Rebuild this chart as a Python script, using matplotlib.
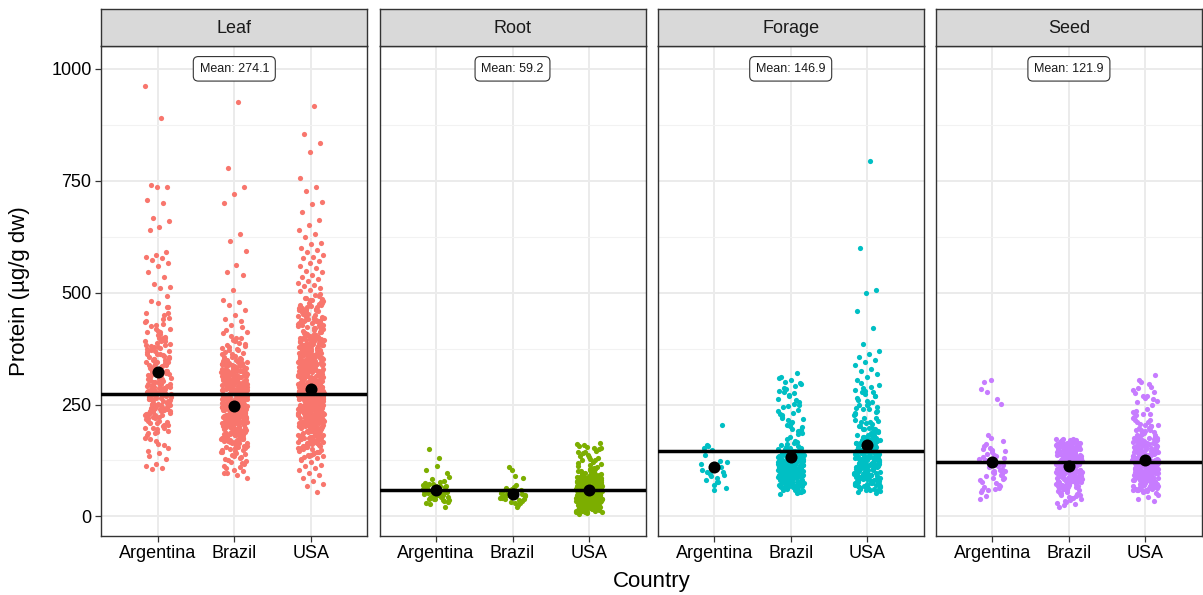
import matplotlib.pyplot as plt

plt.rcParams['font.family'] = ['Liberation Sans', 'DejaVu Sans']

# dados (proteína, µg/g dw)
tissues = ['Leaf', 'Root', 'Forage', 'Seed']
countries = ['Argentina', 'Brazil', 'USA']
colors = ['#F8766D', '#7CAE00', '#00BFC4', '#C77CFF']

overall_means = [274.1, 59.2, 146.9, 121.9]
group_means = [[322, 247, 285], [59, 51, 59], [110, 133, 159], [122, 113, 127]]


def nums(txt):
    return [int(v) for v in txt.split()]


leaf_argentina = nums("""
962 890 740 737 735 706 700 667 660 646 640 590 585 580 577 573 566 560 547 536 519 513 510
312 245 388 276 431 198 355 287 263 402 341 226 297 372 254 318 186 449 283 236 364 305 271 418
229 337 292 258 476 214 349 301 267 393 242 326 189 411 278 233 357 299 262 384 221 346 308 251
467 275 317 204 378 289 240 332 269 427 217 361 294 256 398 230 343 281 175 315 262 492 249 367
303 223 386 286 209 338 271 455 244 324 192 406 280 237 351 296 265 381 212 328 277 441 254 369
306 228 391 268 197 334 285 247 414 219 359 290 260 376 235 321 169 437 273 248 345 300 266 399
226 310 283 482 239 363 292 203 350 257 141 136 128 118 112 108 105 153 162 147
287 352 231 408 269 326 195 374 258 301 443 222 339 276 186 391 248 315 467 209 363 283 239 419
296 172 347 264 383 227 330 455 252 307 198 370 273 236 426 291 344 181 399 261 318 214 357 285
243 434 268 324 205 379 297 159 336 250 412 279
""")

leaf_brazil = nums("""
254 198 312 227 286 163 341 239 272 205 298 184 325 261 219 349 242 176 307 268 231 289 152 334
213 277 246 318 195 262 301 227 356 181 249 292 216 338 271 207 283 236 169 315 257 224 296 188
345 265 211 279 241 322 199 258 305 233 172 287 248 330 218 267 193 309 244 354 226 274 160 293
252 339 208 281 238 316 185 264 229 300 247 171 327 256 215 285 203 343 269 232 311 178 276 245
191 320 260 222
238 294 167 331 255 209 282 243 348 196 273 227 306 183 261 250 323 214 289 158 337 240 270 201
314 228 285 174 297 253 346 221 266 190 303 235 278 157 328 246 212 291 263 180 319 234 358 205
275 249 143 310 226 287 197 340 258 217 295 272 186 324 241 262 164 307 230 283 210 351 248 269
192 299 236 317 176 280 254 222 333 203 264 288 149 312 243 228 276 195 336 257 211 302 268 182
325 237 290 206
139 147 128 133 121 144 156 126 117 135 112 131 150 124 141 108 119 137 362 371 378 385 391 367
398 404 412 375 383 366 394 409 388 372 380 399 417 424 363 376
925 778 736 720 700 632 615 592 561 546 540 505 483 478 472 462 449 440 436 428 85 92 97 101 104
96 110
221 305 187 268 339 243 176 292 214 327 259 198 311 235 282 161 346 250 208 274 230 319 189 263
301 224 357 245 170 287 212 333 266 194 316 239 279 155 342 257 203 298 229 271 182 323 248 215
290 261 177 336 233 306 256 199 284 218 344 241 166 313 275 227 296 206 352 252 185 320 237 270
148 303 223 288 264 193 328 246 211 279 173 315 258 232 297 201 338 267 219 308 251 180 325 244
286 209 272 154
247 192 318 263 226 289 174 331 255 213 300 238 167 347 276 204 293 229 312 251 186 322 268 217
284 159 336 242 198 305 273 221 290 181 328 259 209 296 235 350 264 190 314 248 171 283 226 309
257 202 341 269 215 294 184 324 240 277 163 307 253 219 333 270 196 286 231 316 245 177 299 262
207 338 228 281 168 311 250 194
""")

leaf_usa = nums("""
918 855 835 815 756 735 727 702 698 680 662 650 641 632 625 612 608 600 596 590 585 580 577 571
566 560 555 549 545 540 536 531 527 521 518 514 510 506 503
55 68 72 80 85 92 97 103 108 112 116 121 126 131
287 214 356 243 412 178 321 265 448 199 305 372 231 284 167 339 256 396 222 310 468 247 183 361
275 427 208 295 338 251 384 162 316 269 441 226 352 289 193 403 237 328 272 486 211 347 262 175
379 300 234 418 257 323 186 364 281 219 455 245 309 392 202 336 268 171 375 293 228 431 254 318
197 369 279 240 408 216 345 297 160 386 263 330 224 472 250 303 189 357 276 417 232 314 205 398
285 341 248 178
266 401 219 333 281 157 365 244 439 296 210 352 273 187 388 238 319 462 258 302 196 374 268 227
426 291 343 172 397 249 313 235 481 279 206 360 261 325 183 409 287 221 349 253 164 383 306 242
437 270 331 199 371 224 294 457 259 337 181 392 276 214 358 298 245 423 264 168 379 316 230 348
283 203 413 252 329 191 366 272 445 237 307 218 390 288 155 354 261 322 209 403 279 244 335 176
381 297 227 469
312 195 247 368 283 221 405 264 339 178 292 436 256 317 205 384 271 233 357 164 298 419 246 328
187 376 262 213 451 285 343 198 302 267 394 226 361 158 324 279 242 407 290 352 211 271 189 433
255 316 236 373 296 170 345 268 224 399 281 335 203 260 488 249 309 182 366 287 231 421 274 355
215 296 166 386 259 327 240 474 283 201 348 265 310 192 395 276 229 340 257 176 412 303 244 362
219 289 151 378
145 138 152 141 133 148 137 129 144 156 134 140 150 143 136 147 495 489 478 470 466 459 452 447
441 436 498 484 473 463 456 443 432 427 492 476 461 449 439 430
301 238 376 192 329 264 415 217 352 283 169 394 247 310 458 226 341 272 188 367 295 233 429 258
318 204 385 276 161 346 289 222 404 251 333 180 372 267 443 214 306 291 198 358 240 327 476 261
179 381 300 228 420 275 344 193 363 254 313 167 398 282 236 351 208 335 270 446 245 321 187 376
297 219 410 263 338 174 359 284 242 392 211 324 269 465 230 349 196 307 278 253 385 215 330 158
371 292 239 437
256 318 207 383 271 162 345 293 231 424 266 337 185 362 248 303 453 220 327 281 195 370 243 311
172 401 277 229 354 260 190 388 298 212 334 274 483 236 319 201 366 286 245 416 253 342 177 379
262 225 306 192 357 281 438 216 325 268 183 396 250 313 237 372 290 166 348 259 206 427 279 331
188 364 243 297 221 387 271 154 340 263 232 408 285 316 199 355 247 461 214 322 276 181 374 239
302 258 197 344
""")

root_argentina = [61, 48, 73, 55, 39, 66, 52, 84, 44, 58, 70, 35, 63, 50, 77, 42, 57, 68, 31, 54,
                  46, 89, 60, 38, 65, 51, 74, 43, 56, 97, 47, 62, 36, 59, 71, 53, 41, 67, 49, 104,
                  45, 58, 33, 64, 52, 80, 40, 57, 69, 27, 55, 113, 62, 48, 72, 37, 131, 150, 20, 66]

root_brazil = [52, 38, 66, 45, 29, 58, 41, 71, 49, 35, 62, 44, 25, 55, 47, 90, 39, 60, 33, 53,
               20, 48, 86, 43, 57, 36, 110, 46, 31, 64, 50, 104, 42]

root_usa = nums("""
45 62 28 81 53 17 70 39 94 58 23 66 49 105 34 75 56 12 87 43 61 27 98 51 36 72 19 64 47 115 31
57 83 41 68 24 52 91 37 60 15 77 46 102 29 55 69 33 88 50 21 63 40 79 57 26 96 44 67 14 54 85 38
71 48 110 30 59 22 75 42 65 18 93 53 35 81 46 62 10 58 100 32 70 49 25 86 41 61 16 56 77 37 120
51 28 66 44 73 20
60 34 89 47 23 71 55 13 97 39 64 28 82 52 43 108 19 68 58 31 76 45 11 92 57 36 63 24 84 49 118
41 67 17 53 79 30 61 46 103 26 72 56 38 90 15 65 48 33 78 54 22 99 42 69 8 59 86 35 74 50 27 95
44 62 18 81 57 37 112 29 66 51 21 88 40 70 12 58 83 33 64 47 106 25 73 55 39 91 16 60 45 30 77
53 6 84 42 68 24
125 131 138 144 152 160 165 128 135 147 156 162 122 141 150 133 158 126 143 154
38 72 22 55 89 43 14 66 31 80 50 19 61 35 97 47 26 70 57 11 85 41 64 29 52 76 17 45 93 33 68 58
24 82 49 12 63 37 101 54 28 74 44 20 59 87 35 67 51 15 79 42 62 30 95 48 23 71 56 39 84 18 65 46
27 77 53 9 90 36 60 43 25 73 50 33 106 40 57 21
""")

forage_argentina = [118, 86, 160, 99, 70, 152, 124, 95, 64, 113, 82, 205, 148, 104, 76, 157,
                    92, 60, 138, 110, 90, 122, 78, 100]

forage_brazil = nums("""
98 134 76 112 157 88 121 69 145 104 83 128 93 172 115 71 139 101 86 124 64 150 109 79 131 96 117
74 163 106 90 127 67 142 113 81 120 99 185 73 136 108 92 154 84 125 62 118 102 146 77 130 95 111
168 87 122 70 141 105 89 133 66 114 97 178 82 126 75 138 110 93 149 68 119 100 85 131 72 160 107
91 124 65 143 116 80 103 94 135
199 212 226 238 247 263 275 288 296 305 312 320 205 218 231 244 256 269 281 292 301 193 208 223
190 215 235 252 278 298 203 229 260 284 187 196 221 248 271 310
58 63 54 71 66 52 61 57 69 60 55 74 50 62 67 59 86 95 101 113 118 92 107 125 99 111 88 104 116 97
103 78 131 92 117 66 144 85 109 124 71 138 96 112 80 152 101 68 127 90 119 74 135 106 88 146 63
114 98 129 77 161 93 121 84 108 140 70 116 99 133 82 126 65 148 104 91 120 75 137 110 87 156 67
123 97 130 79 113 102 143 72 118 94 166 86 128 105 76 139 100 89 122 69 134 111 81 125 95 150
""")

forage_usa = nums("""
795 600 505 500 460 420 385 370 362 357 350 345 338 330 325 318 312 305
112 178 86 145 203 97 131 164 74 122 189 103 156 81 138 216 92 127 171 68 149 107 195 118 84 160
134 99 228 76 141 113 183 90 125 152 65 171 106 137 208 88 119 162 79 143 101 190 129 72 154 110
235 95 132 167 83 121 146 62 176 104 139 198 87 116 158 77 128 221 98 144 108 169 73 135 185 91
123 150 66 173 114 140 93 211 126 157 80 118 196 100 133 163 70 147 111 180 89 130
252 261 268 274 283 290 298 245 257 265 279 286 294 241 249 270 281 243 255 277 58 63 55 61 67
57 60 64 53 59 105 120 95 140 115 85 150 100 130 75 110 90 125 80 145 160 170 135
124 168 91 143 207 112 76 158 133 189 98 226 117 149 83 176 136 104 241 127 161 88 195 119 71 153
141 214 95 130 183 108 67 166 122 233 101 146 80 171 138 92 203 115 156 74 187 129 110 249 97 151
178 86 137 120 219 103 163 78 143 192 113 69 174 132 94 210 125 155 84 181 107 145 72 198 118 160
89 230
""")

seed_argentina = nums("""
128 74 162 95 143 58 112 183 87 137 66 104 152 81 119 45 168 99 132 71 110 146 62 125 92 176 54
116 140 84 101 157 69 122 40 134 90 107 148 76 118 60 130 97 300 252 305 285 262 278 114 86 150
64 127 102
""")

seed_brazil = nums("""
126 93 151 108 72 139 117 85 163 101 130 64 146 112 89 158 120 77 134 98 168 106 58 142 115 81
155 124 95 137 69 110 149 87 128 104 171 91 119 75 144 133 62 156 103 122 84 140 97 113 52 160
129 79 147 107 92 135 118 66 153 100 125 88 165 111 73 141 96 131 82 158 116 60 138 105 174 90
127 76 150 114 99 143 70 121 86 162 109 132 94 145 68 123 102 157 80 136 117 44
22 28 35 38 42 47 50 55 31 41 26 48 36 53 45 33
160 165 170 155 148 152 166 158 163 145 168 150 157 162 172 149
118 89 147 104 133 76 160 97 125 112 68 152 84 138 109 93 170 121 73 143 101 130 87 156 115 61
136 95 127 80 164 106 149 91 119 71 141 99 131 83 158 110 124 66 145 92 137 103 78 167 116 128
86 153 98 122 74 139 107 134 90 161 113 82 146 100 126 69 150 94 117 135 79 172 102 129 88 142
57 120
""")

seed_usa = nums("""
132 87 178 104 215 66 149 118 241 95 163 76 128 197 109 142 84 226 121 171 69 137 100 188 114 155
79 206 125 92 168 146 73 233 107 134 183 97 119 152 62 176 112 210 88 140 124 193 81 160 103 129
250 94 145 116 171 71 136 99 202 122 158 85 182 110 131 219 90 148 77 165 106 138 187 96 126 58
174 113 143 228 83 153 101 194 118 135 68 162 91 127 204 108 147 80 170 123 256 99
55 60 63 66 52 58 62 65 70 48 43 38 35 57 61 67 72 64 56 59
262 270 282 295 305 315 265 276 290 300 258 268 286 278
85 92 98 105 110 88 95 102 115 120 90 100 108 118 86 93 97 104 112 125
121 94 167 108 145 78 190 131 102 158 86 212 117 139 70 175 126 97 153 111 236 83 164 134 106 198
120 91 149 73 181 128 100 160 115 88 222 137 104 171 80 152 124 96 205 112 143 66 186 130 99 163
118 84 147 107 229 135 92 178 121 75 156 110 194 127 89 141 103 168 81 215 132 98 150 116 77 184
125 94 159 109 139 87 201 119 72 165 129 101 144 82 176 113 96 155 123 61 188 106
""")

data = [[leaf_argentina, leaf_brazil, leaf_usa],
        [root_argentina, root_brazil, root_usa],
        [forage_argentina, forage_brazil, forage_usa],
        [seed_argentina, seed_brazil, seed_usa]]

W, H = 1203, 595
fig = plt.figure(figsize=(W / 100, H / 100), dpi=100)

panel_left = [101.3, 379.5, 657.7, 935.9]
panel_w = 266
panel_top, panel_bottom = 46, 535.7
strip_top = 9.3

for p, tissue in enumerate(tissues):
    x0 = panel_left[p] / W
    ax = fig.add_axes([x0, (H - panel_bottom) / H, panel_w / W, (panel_bottom - panel_top) / H])
    ax.set_xlim(0.26, 3.74)
    ax.set_ylim(-43, 1051)

    # grade estilo theme_bw
    ax.set_yticks([0, 250, 500, 750, 1000])
    ax.set_yticks([125, 375, 625, 875], minor=True)
    ax.set_xticks([1, 2, 3])
    ax.set_xticklabels(countries, fontsize=13)
    ax.grid(True, which='major', color='#EBEBEB', linewidth=1.4, zorder=0)
    ax.grid(True, which='minor', axis='y', color='#F2F2F2', linewidth=0.8, zorder=0)
    ax.set_axisbelow(True)
    for s in ax.spines.values():
        s.set_color('#333333')
        s.set_linewidth(1.0)
    ax.tick_params(which='major', length=4, color='#333333', width=0.9, pad=3, labelcolor='black')
    ax.tick_params(which='minor', length=0)
    if p == 0:
        ax.set_yticklabels(['0', '250', '500', '750', '1000'], fontsize=13)
    else:
        ax.tick_params(axis='y', which='major', length=0, labelleft=False)

    # pontos com jitter determinístico
    for c in range(3):
        vals = data[p][c]
        xs = [c + 1 + ((k * 0.6180339887 + 0.31 * c) % 1 - 0.5) * 0.34 for k in range(len(vals))]
        ax.scatter(xs, vals, s=14, color=colors[p], linewidths=0, zorder=2)

    ax.axhline(overall_means[p], color='black', linewidth=2.5, zorder=3)
    ax.scatter([1, 2, 3], group_means[p], s=75, color='black', linewidths=0, zorder=4)

    ax.text(2, 1000, f'Mean: {overall_means[p]}', ha='center', va='center', fontsize=9,
            color='#1a1a1a', zorder=5,
            bbox=dict(boxstyle='round,pad=0.5,rounding_size=0.4', facecolor='white',
                      edgecolor='#333333', linewidth=0.8))

    # faixa do facet
    sax = fig.add_axes([x0, (H - panel_top) / H, panel_w / W, (panel_top - strip_top) / H])
    sax.set_facecolor('#D9D9D9')
    sax.set_xticks([])
    sax.set_yticks([])
    for s in sax.spines.values():
        s.set_color('#333333')
        s.set_linewidth(1.0)
    sax.text(0.5, 0.47, tissue, ha='center', va='center', fontsize=13, color='#1a1a1a',
             transform=sax.transAxes)

fig.text(20 / W, 1 - 291 / H, 'Protein (µg/g dw)', rotation=90, ha='center', va='center',
         fontsize=16)
fig.text(651.6 / W, 1 - 581 / H, 'Country', ha='center', va='center', fontsize=16)

fig.savefig('out.png', dpi=100)
